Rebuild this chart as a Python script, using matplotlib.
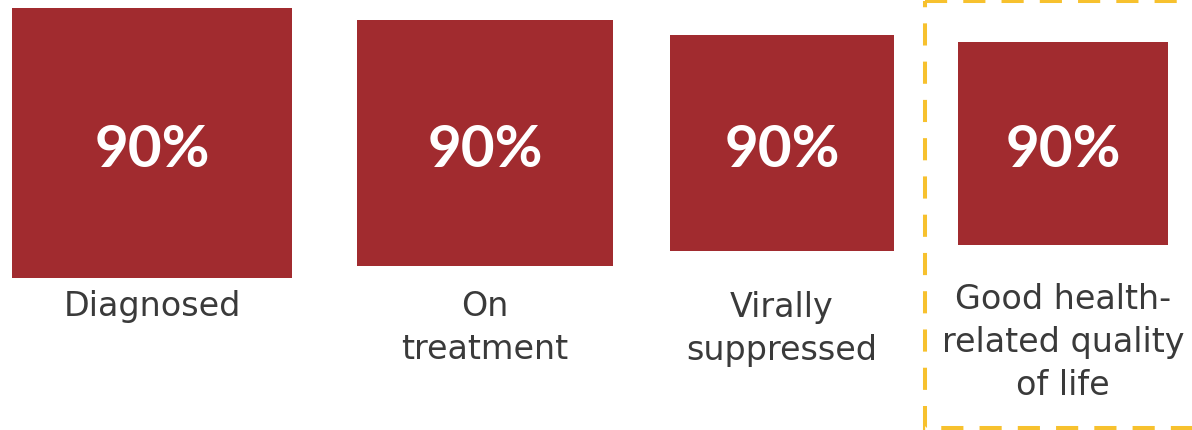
import matplotlib
matplotlib.use("Agg")
import matplotlib.pyplot as plt
from matplotlib.patches import Rectangle

# Cascade stages and the target share for each
stages = ["Diagnosed", "On\ntreatment", "Virally\nsuppressed",
          "Good health-\nrelated quality\nof life"]
targets = [90, 90, 90, 90]

# Box geometry (pixels): centre x, width, height; boxes share a centre line
box_cx = [152, 485, 782, 1063]
box_w = [280, 256, 224, 210]
box_h = [270, 246, 216, 203]
box_cy = 144

RED = "#A12B2F"
YELLOW = "#F7C12E"
GREY = "#3a3a3a"

W, H = 1192, 431
fig = plt.figure(figsize=(W / 100, H / 100), dpi=100)
ax = fig.add_axes([0, 0, 1, 1])
ax.set_xlim(0, W)
ax.set_ylim(H, 0)
ax.axis("off")

bottoms = [box_cy - h / 2 for h in box_h]
ax.bar(box_cx, box_h, width=box_w, bottom=bottoms, color=RED,
       edgecolor="none", zorder=2)

for cx, v in zip(box_cx, targets):
    ax.text(cx, box_cy + 23, f"{v}%", color="white", family="Lato",
            fontweight="bold", fontsize=42, ha="center", va="baseline",
            zorder=3)

label_top = [290, 290, 291, 283]
for cx, top, name in zip(box_cx, label_top, stages):
    ax.text(cx, top, name, color=GREY, family="DejaVu Sans", fontsize=24,
            ha="center", va="top", linespacing=1.38, zorder=3)

# Dashed highlight around the last stage
ax.add_patch(Rectangle((925, 1.5), 290, 428, fill=False, edgecolor=YELLOW,
                       linewidth=2.9, linestyle=(0, (5.5, 4)),
                       capstyle="butt", zorder=1, clip_on=False))

fig.savefig("out.png", dpi=100)
